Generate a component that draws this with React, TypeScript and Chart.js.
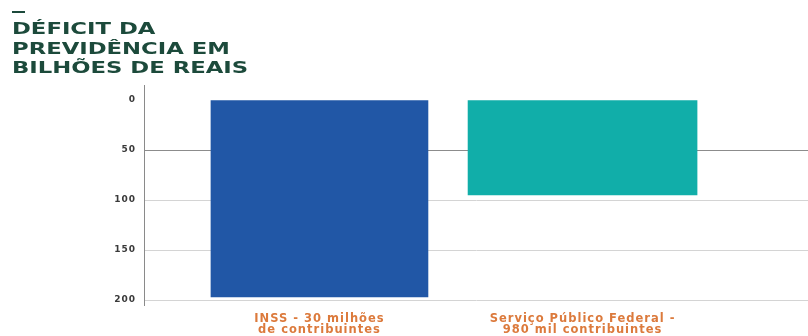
import React, { useEffect, useRef } from "react";
import { Chart, registerables } from "chart.js";

Chart.register(...registerables);

const titleLines = ["DÉFICIT DA", "PREVIDÊNCIA EM", "BILHÕES DE REAIS"];
const categories: string[][] = [
  ["INSS - 30 milhões", "de contribuintes"],
  ["Serviço Público Federal -", "980 mil contribuintes"],
];
const deficitValues = [197, 95];
const barColors = ["#2157a6", "#11aea9"];
const barWidths = [217, 229];
const yTicks = [0, 50, 100, 150, 200];

const wideText = {
  id: "wideText",
  beforeDraw(chart: any) {
    chart.ctx.letterSpacing = "1px";
  },
  afterDraw(chart: any) {
    chart.ctx.letterSpacing = "0px";
  },
};

export default function App() {
  const ref = useRef<HTMLCanvasElement | null>(null);

  useEffect(() => {
    document.body.style.margin = "0";
    const canvas = ref.current;
    if (!canvas) return;
    const chart = new Chart(canvas, {
      type: "bar",
      data: {
        datasets: deficitValues.map((v, i) => ({
          label: categories[i].join(" "),
          data: [{ x: i, y: v }],
          backgroundColor: barColors[i],
          borderWidth: 0,
          barThickness: barWidths[i],
          grouped: false,
        })) as any,
      },
      plugins: [wideText],
      options: {
        responsive: false,
        animation: false,
        layout: { padding: { top: 85, left: 0, right: 0, bottom: 0 } },
        plugins: { legend: { display: false }, tooltip: { enabled: false }, title: { display: false } },
        scales: {
          x: {
            type: "linear",
            offset: false,
            min: -0.667,
            max: 1.857,
            grid: { display: false, offset: false, drawTicks: false },
            border: { display: false },
            afterFit: (s: any) => { s.height = 31; },
            afterBuildTicks: (s: any) => { s.ticks = categories.map((_, i) => ({ value: i })); },
            ticks: {
              autoSkip: false,
              maxRotation: 0,
              padding: 8,
              color: "#dc7a3c",
              font: { family: "DejaVu Sans", weight: "bold", size: 11.5, lineHeight: 1.0 },
              callback: (v: any) => categories[v] ?? "",
            },
          },
          y: {
            type: "linear",
            reverse: true,
            min: -15,
            max: 205,
            afterFit: (s: any) => { s.width = 144; },
            afterBuildTicks: (s: any) => { s.ticks = yTicks.map((v) => ({ value: v })); },
            grid: {
              drawTicks: false,
              color: (c: any) => c.tick && c.tick.value === 0 ? "rgba(0,0,0,0)" : c.tick && c.tick.value === 50 ? "#8c8c8c" : "#d4d4d4",
            },
            border: { display: true, color: "#8a8a8a", width: 1 },
            ticks: {
              padding: 8,
              color: "#3a3a3a",
              font: { family: "DejaVu Sans", weight: "bold", size: 9 },
            },
          },
        },
      } as any,
    });
    return () => chart.destroy();
  }, []);

  return (
    <div style={{ position: "relative", width: 808, height: 336, background: "#fff", overflow: "hidden" }}>
      <canvas ref={ref} width={808} height={336} style={{ display: "block", position: "absolute", left: 0, top: 0 }} />
      <div style={{ position: "absolute", left: 12, top: 11, width: 13, height: 2, background: "#1c4a3b" }} />
      <div
        style={{
          position: "absolute",
          left: 12,
          top: 19,
          fontFamily: "DejaVu Sans",
          fontWeight: 700,
          fontSize: 16,
          lineHeight: "19.5px",
          color: "#1c4a3b",
          transform: "scaleX(1.42)",
          transformOrigin: "left top",
          whiteSpace: "nowrap",
        }}
      >
        {titleLines.map((l) => (
          <div key={l}>{l}</div>
        ))}
      </div>
    </div>
  );
}
